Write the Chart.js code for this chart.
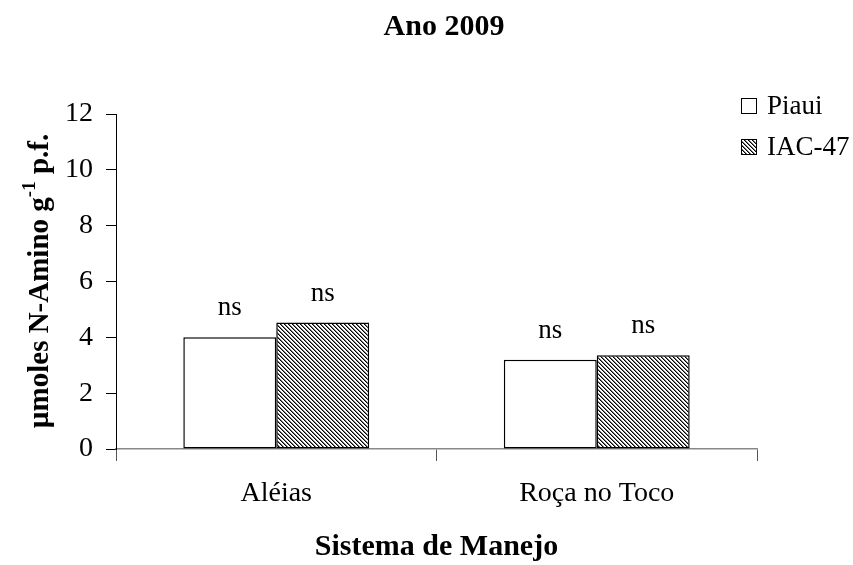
<!DOCTYPE html>
<html>
<head>
<meta charset="utf-8">
<script src="https://cdn.jsdelivr.net/npm/chart.js@4/dist/chart.umd.min.js"></script>
<style>
  html, body { margin: 0; padding: 0; background: #fff; }
  canvas { display: block; }
</style>
</head>
<body>
<canvas id="chart" width="853" height="565"></canvas>
<script>
// dados
const categories = ["Aléias", "Roça no Toco"];
const seriesNames = ["Piaui", "IAC-47"];
const piauiValues = [4.0, 3.2];
const iacValues = [4.53, 3.36];
const significance = [["ns", "ns"], ["ns", "ns"]];
const yMin = 0;
const yMax = 12;
const yStep = 2;
const chartTitle = "Ano 2009";
const xTitle = "Sistema de Manejo";

const SERIF = "'Liberation Serif', 'Times New Roman', serif";

const canvas = document.getElementById("chart");
const mainCtx = canvas.getContext("2d");

// padrão hachurado (linhas diagonais)
function makeHatch() {
  const c = document.createElement("canvas");
  c.width = 4;
  c.height = 4;
  const g = c.getContext("2d");
  const img = g.createImageData(4, 4);
  for (let y = 0; y < 4; y++) {
    for (let x = 0; x < 4; x++) {
      const k = (((x - y) % 4) + 4) % 4;
      const v = k === 0 ? 0 : k === 1 ? 120 : 255;
      const i = (y * 4 + x) * 4;
      img.data[i] = img.data[i + 1] = img.data[i + 2] = v;
      img.data[i + 3] = 255;
    }
  }
  g.putImageData(img, 0, 0);
  return mainCtx.createPattern(c, "repeat");
}
const hatch = makeHatch();

const decorations = {
  id: "decorations",
  afterDatasetsDraw(chart) {
    const ctx = chart.ctx;
    ctx.save();
    ctx.fillStyle = "#000";
    ctx.font = `27px ${SERIF}`;
    ctx.textAlign = "center";
    ctx.textBaseline = "middle";
    chart.data.datasets.forEach((ds, i) => {
      chart.getDatasetMeta(i).data.forEach((bar, j) => {
        ctx.fillText(significance[i][j], bar.x, bar.y - 29);
      });
    });
    ctx.restore();
  },
  afterDraw(chart) {
    const ctx = chart.ctx;
    const area = chart.chartArea;
    ctx.save();
    ctx.fillStyle = "#000";
    ctx.textBaseline = "middle";

    // títulos
    ctx.textAlign = "center";
    ctx.font = `bold 30px ${SERIF}`;
    ctx.fillText(chartTitle, 444, 27);
    ctx.fillText(xTitle, (area.left + area.right) / 2, 547);

    // título do eixo y com expoente
    const part1 = "µmoles N-Amino g";
    const sup = "-1";
    const part2 = " p.f.";
    const mainFont = `bold 29px ${SERIF}`;
    const supFont = `bold 19px ${SERIF}`;
    ctx.font = mainFont;
    const w1 = ctx.measureText(part1).width;
    const w3 = ctx.measureText(part2).width;
    ctx.font = supFont;
    const w2 = ctx.measureText(sup).width;
    const total = w1 + w2 + w3;
    ctx.translate(41, 281);
    ctx.rotate(-Math.PI / 2);
    ctx.textAlign = "left";
    let x = -total / 2;
    ctx.font = mainFont;
    ctx.fillText(part1, x, 0);
    x += w1;
    ctx.font = supFont;
    ctx.fillText(sup, x, -11);
    x += w2;
    ctx.font = mainFont;
    ctx.fillText(part2, x, 0);
    ctx.setTransform(1, 0, 0, 1, 0, 0);

    // legenda
    const rows = [106, 147];
    chart.data.datasets.forEach((ds, i) => {
      const y = rows[i];
      ctx.fillStyle = ds.backgroundColor;
      ctx.fillRect(741, y - 8, 16, 16);
      ctx.strokeStyle = "#000";
      ctx.lineWidth = 1;
      ctx.strokeRect(741.5, y - 7.5, 15, 15);
      ctx.fillStyle = "#000";
      ctx.font = `27px ${SERIF}`;
      ctx.textAlign = "left";
      ctx.fillText(ds.label, 767, y + 1);
    });
    ctx.restore();
  },
};

new Chart(mainCtx, {
  type: "bar",
  data: {
    labels: categories,
    datasets: [
      {
        label: seriesNames[0],
        data: piauiValues,
        backgroundColor: "#ffffff",
        borderColor: "#000",
        borderWidth: 1.5,
        borderSkipped: false,
      },
      {
        label: seriesNames[1],
        data: iacValues,
        backgroundColor: hatch,
        borderColor: "#000",
        borderWidth: 1.5,
        borderSkipped: false,
      },
    ],
  },
  options: {
    responsive: false,
    animation: false,
    events: [],
    categoryPercentage: 0.58,
    barPercentage: 1.0,
    layout: { padding: { left: 0, top: 114, right: 96, bottom: 0 } },
    plugins: {
      legend: { display: false },
      title: { display: false },
      tooltip: { enabled: false },
    },
    scales: {
      x: {
        afterFit: (s) => { s.height = 116; },
        grid: {
          offset: true,
          drawOnChartArea: false,
          tickLength: 12,
          color: "#555",
        },
        border: { color: "#888", width: 1.5 },
        ticks: {
          color: "#000",
          padding: 16,
          font: { family: SERIF, size: 28 },
        },
      },
      y: {
        min: yMin,
        max: yMax,
        afterFit: (s) => { s.width = 116; },
        grid: {
          drawOnChartArea: false,
          tickLength: 10,
          color: "#000",
        },
        border: { color: "#000", width: 1 },
        ticks: {
          stepSize: yStep,
          color: "#000",
          padding: 13,
          font: { family: SERIF, size: 28 },
        },
      },
    },
  },
  plugins: [decorations],
});
</script>
</body>
</html>
